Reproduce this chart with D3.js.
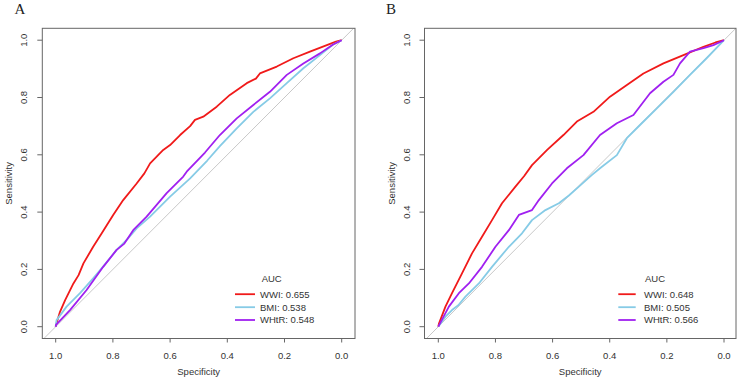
<!DOCTYPE html>
<html><head><meta charset="utf-8">
<script src="https://cdn.jsdelivr.net/npm/d3@7"></script>
<style>body{margin:0;background:#fff}svg{display:block}</style>
</head><body>
<svg id="c" width="744" height="382"></svg>
<script>
// ---- data (specificity, sensitivity) ----
const seriesNames = ["WWI", "BMI", "WHtR"];
const seriesColors = ["#f01a1a", "#86cbe6", "#a020f0"];
const tickValues = [1.0, 0.8, 0.6, 0.4, 0.2, 0.0];
const panelLabels = ["A", "B"];
const aucA = ["0.655", "0.538", "0.548"];
const aucB = ["0.648", "0.505", "0.566"];

const A_WWI = [[1,0],[0.997,0.012],[0.985,0.052],[0.967,0.093],[0.938,0.151],[0.920,0.180],[0.903,0.221],[0.869,0.279],[0.839,0.326],[0.799,0.390],[0.764,0.442],[0.717,0.500],[0.690,0.535],[0.670,0.570],[0.624,0.617],[0.600,0.634],[0.565,0.669],[0.530,0.700],[0.513,0.722],[0.484,0.733],[0.437,0.768],[0.391,0.809],[0.332,0.850],[0.300,0.866],[0.286,0.884],[0.227,0.908],[0.169,0.937],[0.111,0.960],[0.052,0.983],[0.020,0.995],[0,1]];
const A_BMI = [[1,0],[0.997,0.023],[0.962,0.070],[0.915,0.117],[0.869,0.169],[0.830,0.215],[0.787,0.268],[0.750,0.305],[0.717,0.343],[0.670,0.384],[0.600,0.454],[0.530,0.518],[0.470,0.580],[0.426,0.630],[0.367,0.692],[0.309,0.750],[0.251,0.797],[0.192,0.850],[0.134,0.902],[0.076,0.948],[0.030,0.985],[0,1]];
const A_WHtR = [[1,0],[0.999,0.006],[0.950,0.058],[0.892,0.128],[0.834,0.209],[0.787,0.268],[0.760,0.290],[0.729,0.337],[0.682,0.384],[0.612,0.466],[0.554,0.524],[0.542,0.541],[0.478,0.608],[0.426,0.669],[0.367,0.727],[0.309,0.774],[0.251,0.820],[0.192,0.879],[0.134,0.919],[0.076,0.954],[0.030,0.985],[0,1]];

const B_WWI = [[1,0],[0.998,0.010],[0.975,0.070],[0.952,0.117],[0.917,0.186],[0.882,0.256],[0.847,0.314],[0.812,0.372],[0.777,0.431],[0.730,0.489],[0.700,0.525],[0.672,0.564],[0.619,0.617],[0.562,0.669],[0.515,0.716],[0.457,0.750],[0.399,0.803],[0.340,0.844],[0.282,0.884],[0.212,0.919],[0.142,0.948],[0.072,0.977],[0.030,0.992],[0,1]];
const B_BMI = [[1,0],[0.975,0.035],[0.952,0.058],[0.930,0.075],[0.905,0.105],[0.858,0.151],[0.812,0.209],[0.753,0.279],[0.707,0.326],[0.672,0.372],[0.625,0.407],[0.578,0.431],[0.543,0.458],[0.508,0.489],[0.462,0.530],[0.434,0.553],[0.375,0.599],[0.340,0.658],[0.294,0.704],[0.235,0.762],[0.177,0.820],[0.119,0.879],[0.061,0.937],[0,1]];
const B_WHtR = [[1,0],[0.963,0.070],[0.928,0.117],[0.893,0.151],[0.847,0.209],[0.800,0.279],[0.753,0.337],[0.718,0.390],[0.672,0.407],[0.648,0.442],[0.602,0.500],[0.550,0.553],[0.492,0.599],[0.434,0.669],[0.375,0.710],[0.317,0.739],[0.259,0.815],[0.212,0.855],[0.177,0.879],[0.154,0.919],[0.119,0.960],[0.072,0.972],[0.037,0.983],[0,1]];

const panels = [
  {label: panelLabels[0], auc: aucA, data: [A_WWI, A_BMI, A_WHtR],
   box: {l: 42.3, r: 355, t: 28.3, b: 338.5}, x1: 55.7, x0: 341.7,
   leg: {lx1: 235, lx2: 255, tx: 260, aucX: 271.7}, labX: 20},
  {label: panelLabels[1], auc: aucB, data: [B_WWI, B_BMI, B_WHtR],
   box: {l: 424.5, r: 736, t: 28.3, b: 338.5}, x1: 438.3, x0: 724,
   leg: {lx1: 618.3, lx2: 635.7, tx: 644, aucX: 655}, labX: 391}
];

const svg = d3.select("#c");
const font = "'Liberation Sans', Arial, sans-serif";
const textCol = "#333";
const axisCol = "#666";

panels.forEach((p, pi) => {
  const g = svg.append("g");
  const x = d3.scaleLinear().domain([1, 0]).range([p.x1, p.x0]);
  const y = d3.scaleLinear().domain([0, 1]).range([326.7, 40.2]);
  const b = p.box;

  const clipId = "clip" + pi;
  svg.append("clipPath").attr("id", clipId).append("rect")
    .attr("x", b.l).attr("y", b.t).attr("width", b.r - b.l).attr("height", b.b - b.t);

  // diagonal reference line
  g.append("line").attr("clip-path", `url(#${clipId})`)
    .attr("x1", x(1.2)).attr("y1", y(-0.2)).attr("x2", x(-0.2)).attr("y2", y(1.2))
    .attr("stroke", "#c8c8c8").attr("stroke-width", 1);

  // curves
  const line = d3.line().x(d => x(d[0])).y(d => y(d[1]));
  p.data.forEach((s, i) => {
    g.append("path").datum(s).attr("d", line)
      .attr("fill", "none").attr("stroke", seriesColors[i])
      .attr("stroke-width", 1.8).attr("stroke-linejoin", "round");
  });
  // redraw WHtR on top of BMI (matches draw order)
  // box
  g.append("rect").attr("x", b.l).attr("y", b.t).attr("width", b.r - b.l).attr("height", b.b - b.t)
    .attr("fill", "none").attr("stroke", axisCol).attr("stroke-width", 1);

  // x ticks
  tickValues.forEach(v => {
    g.append("line").attr("x1", x(v)).attr("x2", x(v)).attr("y1", b.b).attr("y2", b.b + 4)
      .attr("stroke", axisCol);
    g.append("text").attr("x", x(v)).attr("y", 358.5).attr("text-anchor", "middle")
      .attr("font-family", font).attr("font-size", 9.5).attr("fill", textCol)
      .text(d3.format(".1f")(v));
  });
  // y ticks
  tickValues.forEach(v => {
    g.append("line").attr("x1", b.l - 5).attr("x2", b.l).attr("y1", y(v)).attr("y2", y(v))
      .attr("stroke", axisCol);
    g.append("text").attr("transform", `translate(${b.l - 15},${y(v)}) rotate(-90)`)
      .attr("text-anchor", "middle")
      .attr("font-family", font).attr("font-size", 9.5).attr("fill", textCol)
      .text(d3.format(".1f")(v));
  });
  // axis titles
  g.append("text").attr("x", (b.l + b.r) / 2).attr("y", 375).attr("text-anchor", "middle")
    .attr("font-family", font).attr("font-size", 9.5).attr("fill", textCol).text("Specificity");
  g.append("text").attr("transform", `translate(${b.l - 30},${(b.t + b.b) / 2}) rotate(-90)`)
    .attr("text-anchor", "middle")
    .attr("font-family", font).attr("font-size", 9.5).attr("fill", textCol).text("Sensitivity");

  // panel label
  g.append("text").attr("x", p.labX).attr("y", 14).attr("text-anchor", "middle")
    .attr("font-family", "'Liberation Serif', 'Times New Roman', serif").attr("font-size", 15)
    .attr("fill", "#222").text(p.label);

  // legend
  const L = p.leg;
  g.append("text").attr("x", L.aucX).attr("y", 281.5).attr("text-anchor", "middle")
    .attr("font-family", font).attr("font-size", 9.5).attr("fill", textCol).text("AUC");
  const rows = [294.2, 307.2, 320];
  seriesNames.forEach((n, i) => {
    g.append("line").attr("x1", L.lx1).attr("x2", L.lx2).attr("y1", rows[i]).attr("y2", rows[i])
      .attr("stroke", seriesColors[i]).attr("stroke-width", 1.8);
    g.append("text").attr("x", L.tx).attr("y", rows[i] + 3.4)
      .attr("font-family", font).attr("font-size", 9.5).attr("fill", textCol)
      .text(n + ": " + p.auc[i]);
  });
});
</script>
</body></html>
